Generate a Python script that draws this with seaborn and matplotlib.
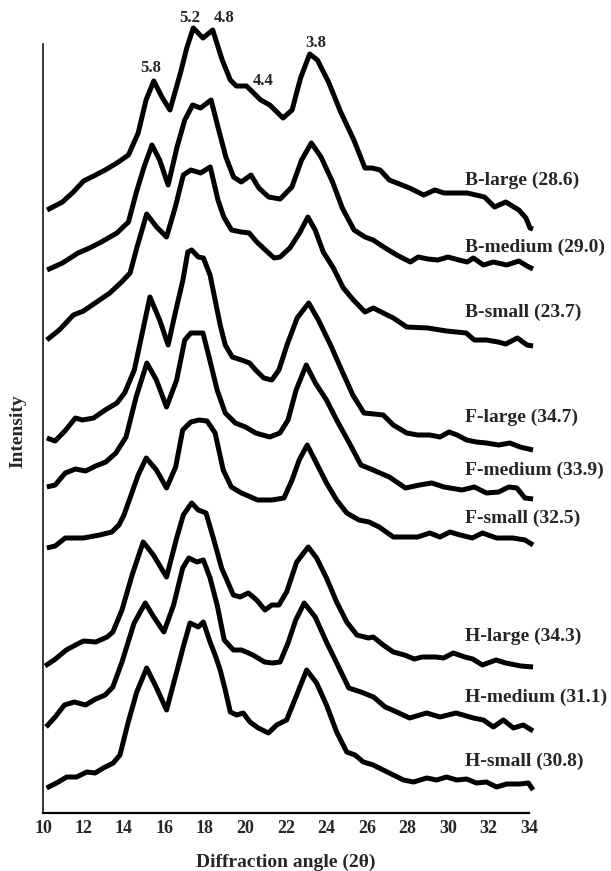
import numpy as np
import pandas as pd
import matplotlib
matplotlib.use("Agg")
import matplotlib.pyplot as plt
import seaborn as sns

# ---------------- data ----------------
samples = ["B-large", "B-medium", "B-small", "F-large", "F-medium", "F-small",
           "H-large", "H-medium", "H-small"]
crystallinity = ["28.6", "29.0", "23.7", "34.7", "33.9", "32.5", "34.3", "31.1", "30.8"]

b_large_x = [10.2, 10.96, 11.5, 12.0, 12.5, 13.07, 13.65, 14.22, 14.7, 15.09, 15.47, 15.9, 16.27, 16.8,
             17.1, 17.42, 17.9, 18.38, 18.85, 19.25, 19.55, 20.05, 20.4, 20.75, 21.2, 21.55, 21.85,
             22.3, 22.72, 23.17, 23.55, 24.1, 24.7, 25.35, 25.9, 26.25, 26.65, 27.1, 27.6, 28.1, 28.8,
             29.35, 29.8, 30.4, 30.95, 31.8, 32.3, 32.85, 33.5, 33.85, 34.05, 34.2]
b_large_i = [0, 8, 18, 29, 34, 40, 47, 55, 77, 110, 129, 112, 100, 138, 162, 182, 172, 180, 150, 130,
             124, 124, 117, 110, 105, 98, 92, 100, 132, 156, 150, 128, 98, 70, 42, 42, 40, 30, 26, 22,
             15, 20, 17, 17, 17, 13, 3, 8, 0, -8, -18, -19]

b_medium_x = [10.2, 10.96, 11.73, 12.3, 12.88, 13.65, 14.22, 14.6, 14.99, 15.38, 15.76, 16.18, 16.62,
              17.0, 17.39, 17.78, 18.3, 18.64, 19.03, 19.41, 19.79, 20.27, 20.66, 21.14, 21.71, 22.29,
              22.77, 23.25, 23.73, 24.3, 24.78, 25.36, 25.9, 26.3, 26.9, 27.47, 28.14, 28.53, 29.0,
              29.5, 30.0, 30.54, 30.95, 31.25, 31.75, 32.24, 32.9, 33.5, 33.9, 34.2]
b_medium_i = [0, 7, 17, 22, 28, 37, 48, 77, 103, 125, 110, 85, 123, 150, 165, 162, 170, 143, 113, 93,
              88, 95, 82, 73, 71, 83, 110, 127, 113, 88, 62, 40, 33, 30, 22, 15, 8, 13, 11, 10, 13,
              10, 8, 12, 5, 8, 5, 9, 4, 1]

b_small_x = [10.19, 10.8, 11.5, 12.0, 12.65, 13.3, 13.88, 14.3, 14.63, 15.12, 15.61, 16.1, 16.52,
             16.93, 17.3, 17.78, 18.26, 18.64, 18.93, 19.31, 19.79, 20.18, 20.56, 21.14, 21.42, 21.71,
             22.19, 22.67, 23.08, 23.44, 23.84, 24.34, 24.83, 25.33, 25.9, 26.31, 26.8, 27.3, 27.96,
             29.0, 29.93, 30.9, 31.3, 31.9, 32.47, 32.85, 33.43, 33.9, 34.2]
b_small_i = [0, 10, 25, 29, 38, 47, 58, 67, 92, 126, 113, 103, 132, 165, 170, 167, 173, 140, 123, 110,
             108, 107, 98, 87, 82, 83, 92, 107, 123, 110, 88, 72, 52, 40, 28, 32, 27, 22, 13, 12, 9,
             7, 0, 0, -2, -4, 2, -5, -6]

f_large_x = [10.19, 10.6, 11.08, 11.6, 11.95, 12.5, 13.07, 13.65, 14.03, 14.51, 14.9, 15.28, 15.76,
             16.18, 16.53, 16.91, 17.15, 17.34, 17.67, 17.92, 18.25, 18.5, 18.75, 19.0, 19.35, 19.8,
             20.2, 20.5, 20.9, 21.3, 21.65, 22.05, 22.55, 23.12, 23.6, 24.2, 24.7, 25.3, 25.85, 26.35,
             26.8, 27.3, 27.96, 28.5, 29.1, 29.6, 30.05, 30.45, 30.92, 31.4, 31.9, 32.5, 33.06, 33.56,
             34.2]
f_large_i = [0, -3, 7, 20, 18, 20, 28, 35, 45, 68, 105, 141, 118, 93, 125, 158, 186, 188, 181, 180,
             163, 138, 113, 93, 81, 78, 75, 68, 60, 58, 68, 93, 120, 135, 118, 93, 70, 43, 25, 24,
             23, 13, 5, 3, 3, 1, 6, 3, -2, -4, -5, -7, -5, -9, -12]

f_medium_x = [10.19, 10.6, 11.1, 11.6, 12.1, 12.6, 13.1, 13.6, 14.1, 14.6, 15.13, 15.6, 16.1, 16.6,
              17.0, 17.3, 17.9, 18.2, 18.6, 19.0, 19.5, 20.0, 20.5, 21.2, 21.7, 22.1, 22.5, 23.0,
              23.45, 24.0, 24.5, 25.1, 25.7, 26.3, 27.1, 27.9, 28.6, 29.2, 29.8, 30.7, 31.3, 31.9,
              32.5, 33.0, 33.4, 33.8, 34.2]
f_medium_i = [0, 2, 14, 18, 16, 21, 25, 34, 50, 90, 124, 107, 80, 107, 147, 154, 154, 130, 97, 74,
              64, 60, 54, 50, 54, 67, 97, 122, 104, 87, 67, 45, 22, 17, 10, -1, 2, 4, 0, -3, 0, -6,
              -5, 0, -1, -11, -12]

f_small_x = [10.19, 10.6, 11.1, 11.6, 12.0, 12.8, 13.4, 13.75, 14.0, 14.35, 14.7, 15.1, 15.6, 16.1,
             16.55, 16.9, 17.3, 17.7, 18.1, 18.5, 18.9, 19.3, 19.8, 20.6, 21.3, 21.9, 22.3, 22.65,
             23.05, 23.5, 24.0, 24.5, 25.0, 25.6, 26.1, 26.6, 27.3, 28.0, 28.5, 29.1, 29.6, 30.1,
             30.6, 31.2, 31.7, 32.4, 33.2, 33.8, 34.2]
f_small_i = [0, 2, 10, 10, 10, 13, 16, 23, 33, 53, 73, 90, 78, 60, 81, 118, 126, 128, 127, 115, 78,
             61, 55, 48, 48, 50, 68, 88, 103, 85, 65, 48, 35, 28, 26, 21, 11, 11, 11, 15, 11, 16,
             13, 10, 15, 10, 10, 8, 3]

h_large_x = [10.1, 10.55, 11.15, 11.7, 12.0, 12.6, 13.17, 13.45, 13.9, 14.4, 14.95, 15.45, 16.1,
             16.6, 16.93, 17.34, 17.67, 18.05, 18.41, 18.82, 19.4, 19.73, 20.14, 20.55, 20.96, 21.3,
             21.65, 22.03, 22.53, 23.1, 23.51, 24.0, 24.5, 25.0, 25.5, 26.07, 26.31, 26.8, 27.3,
             27.85, 28.34, 28.72, 29.4, 29.78, 30.26, 30.83, 31.22, 31.7, 32.37, 32.85, 33.6, 34.2]
h_large_i = [0, 6, 16, 22, 25, 24, 29, 34, 56, 91, 124, 111, 89, 128, 151, 163, 156, 153, 128, 98,
             71, 69, 73, 66, 56, 61, 61, 74, 104, 119, 108, 88, 64, 44, 31, 28, 29, 21, 14, 11, 7,
             9, 9, 8, 13, 9, 7, 1, 6, 3, 0, -1]

h_medium_x = [10.15, 10.6, 11.06, 11.55, 12.1, 12.6, 13.07, 13.45, 13.9, 14.5, 15.05, 15.47, 15.97,
              16.45, 16.9, 17.2, 17.6, 17.92, 18.25, 18.6, 18.95, 19.4, 19.8, 20.37, 20.94, 21.33,
              21.71, 22.1, 22.48, 22.9, 23.44, 24.02, 24.6, 25.1, 25.7, 26.32, 26.9, 27.47, 28.1,
              28.95, 29.6, 30.4, 31.25, 31.75, 32.24, 32.73, 33.23, 33.72, 34.2]
h_medium_i = [0, 10, 22, 25, 22, 28, 32, 40, 65, 104, 124, 110, 95, 122, 159, 169, 165, 167, 149,
              122, 87, 77, 77, 72, 65, 64, 65, 84, 107, 124, 110, 84, 60, 39, 35, 30, 20, 15, 9, 14,
              10, 14, 9, 7, 0, 7, -1, 2, -4]

h_small_x = [10.18, 10.67, 11.17, 11.66, 12.16, 12.57, 12.98, 13.47, 13.8, 14.21, 14.63, 15.12,
             15.61, 16.1, 16.6, 16.95, 17.26, 17.67, 17.92, 18.25, 18.5, 18.75, 19.0, 19.25, 19.56,
             19.89, 20.22, 20.63, 21.13, 21.54, 22.03, 22.53, 23.02, 23.51, 24.0, 24.5, 25.0, 25.41,
             25.82, 26.31, 26.8, 27.3, 27.8, 28.3, 28.95, 29.44, 29.93, 30.43, 30.92, 31.4, 31.9,
             32.4, 32.9, 33.56, 33.97, 34.2]
h_small_i = [0, 5, 11, 11, 16, 15, 20, 25, 33, 66, 96, 120, 100, 78, 116, 143, 165, 161, 166, 146,
             133, 118, 98, 76, 73, 75, 66, 60, 55, 63, 68, 93, 118, 105, 83, 56, 36, 33, 26, 23, 18,
             13, 8, 6, 10, 8, 11, 8, 9, 5, 6, 1, 4, 4, 5, -2]

peak_labels = ["5.8", "5.2", "4.8", "4.4", "3.8"]

# ---------------- layout (stacking offsets, label positions) ----------------
offsets = [603, 543, 473, 375, 326, 265, 147, 86, 25]
label_y = [633, 566, 501, 396, 343, 295, 177, 116, 52]
peak_label_pos = [(15.3, 745), (17.27, 795), (18.95, 795), (20.85, 732), (23.45, 770)]

xs = [b_large_x, b_medium_x, b_small_x, f_large_x, f_medium_x, f_small_x,
      h_large_x, h_medium_x, h_small_x]
ys = [b_large_i, b_medium_i, b_small_i, f_large_i, f_medium_i, f_small_i,
      h_large_i, h_medium_i, h_small_i]

frames = []
for name, x, y, off in zip(samples, xs, ys, offsets):
    frames.append(pd.DataFrame({"theta": x, "intensity": np.array(y) + off, "sample": name,
                                "order": np.arange(len(x))}))
df = pd.concat(frames, ignore_index=True)

# ---------------- plotting ----------------
sns.set_style("white")
plt.rcParams["font.family"] = ["Liberation Serif", "DejaVu Serif"]
plt.rcParams["font.weight"] = "bold"

W, H = 611, 871
fig = plt.figure(figsize=(W / 100, H / 100), dpi=100)
ax = fig.add_axes([43 / W, (H - 813) / H, 486 / W, 813 / H])

for name in samples:
    sub = df[df["sample"] == name]
    sns.lineplot(data=sub, x="theta", y="intensity", sort=False, estimator=None,
                 color="black", lw=3.6, ax=ax, legend=False)
for line in ax.lines:
    line.set_clip_on(False)
    line.set_solid_joinstyle("round")
    line.set_solid_capstyle("butt")

ax.set_xlim(10, 34)
ax.set_ylim(0, 813)
ax.set_xticks(np.arange(10, 35, 2))
ax.set_yticks([])
ax.tick_params(axis="x", direction="in", length=5, width=1.6, pad=5, labelsize=13)
for lab in ax.get_xticklabels():
    lab.set_fontweight("bold")

ax.spines["top"].set_visible(False)
ax.spines["right"].set_visible(False)
ax.spines["left"].set_bounds(0, 769)
ax.spines["left"].set_linewidth(1.1)
ax.spines["bottom"].set_linewidth(1.6)
for s in ["left", "bottom"]:
    ax.spines[s].set_color("black")
ax.patch.set_alpha(0)

ax.set_xlabel("Diffraction angle (2θ)", fontsize=14, fontweight="bold")
ax.xaxis.set_label_coords((286 - 43) / 486, -(862 - 813) / 813)
ax.xaxis.label.set_va("center")
ax.set_ylabel("Intensity", fontsize=14, fontweight="bold")
ax.yaxis.set_label_coords((18 - 43) / 486, (813 - 431) / 813)
ax.yaxis.label.set_va("center")

for name, c, ly in zip(samples, crystallinity, label_y):
    ax.text(30.84, ly, f"{name} ({c})", ha="left", va="center", fontsize=14,
            fontweight="bold", clip_on=False)

for txt, (px, py) in zip(peak_labels, peak_label_pos):
    ax.text(px, py, txt, ha="center", va="center", fontsize=12, fontweight="bold",
            clip_on=False)

fig.savefig("out.png", dpi=100)
